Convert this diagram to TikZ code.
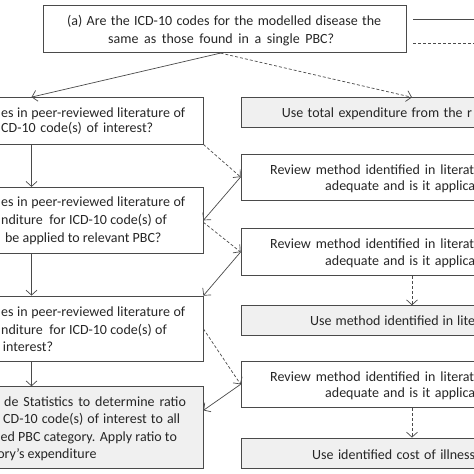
\documentclass[tikz,border=0pt]{standalone}
\usepackage{fontspec}
\setmainfont{Carlito}
\usetikzlibrary{arrows.meta}
\definecolor{edgec}{HTML}{4A4A4A}
\definecolor{grayfill}{HTML}{F0F0F0}
\definecolor{txtc}{HTML}{262626}
\newcommand{\spread}[2]{\makebox[#1][s]{#2}}
\begin{document}
\begin{tikzpicture}[x=1pt,y=-1pt,
  box/.style={draw=edgec, line width=0.8pt, rectangle, inner sep=0pt},
  greybox/.style={box, fill=grayfill},
  txt/.style={inner sep=0pt, text height=10.5pt, text depth=3.5pt, font=\fontsize{14}{17.5}\selectfont, text=txtc},
  ltxt/.style={txt, anchor=east},
  rtxt/.style={txt, anchor=west},
  conn/.style={draw=edgec, line width=0.7pt, -{Straight Barb[length=5pt,width=11pt]}},
  dconn/.style={conn, dash pattern=on 3pt off 2pt},
  legline/.style={draw=edgec, line width=0.7pt}]
\useasboundingbox (0,0) rectangle (474,474);
\clip (0,0) rectangle (474,474);
\fill[white] (0,0) rectangle (474,474);

\coordinate (lcol) at (31.5,0);
\coordinate (rcol) at (412,0);

% boxes
\node[box, minimum width=363pt, minimum height=47.7pt] (top) at (224.5,28.85) {};
\node[box, minimum width=403pt, minimum height=46.5pt] (B1) at (1.5,120.75) {};
\node[box, minimum width=403pt, minimum height=66pt] (B2) at (1.5,220.3) {};
\node[box, minimum width=403pt, minimum height=65.7pt] (B3) at (1.5,328.85) {};
\node[greybox, minimum width=403pt, minimum height=81.3pt] (B4) at (1.5,427.35) {};
\node[greybox, minimum width=459pt, minimum height=29.3pt] (R1) at (470.5,112.35) {};
\node[box, minimum width=459pt, minimum height=46pt] (R2) at (470.5,177) {};
\node[box, minimum width=459pt, minimum height=47.4pt] (R3) at (470.5,252) {};
\node[greybox, minimum width=459pt, minimum height=30pt] (R4) at (470.5,320.7) {};
\node[box, minimum width=459pt, minimum height=46.7pt] (R5) at (470.5,384.35) {};
\node[greybox, minimum width=459pt, minimum height=30pt] (R6) at (470.5,453) {};

% texts
\node[rtxt] (ttop1) at (67,21.7) {\spread{314pt}{(a) Are the ICD-10 codes for the modelled disease the}};
\node[rtxt] (ttop2) at (108,39.5) {\spread{226pt}{same as those found in a single PBC?}};

\node[rtxt] (b1a) at (1,114) {\spread{184pt}{es in peer-reviewed literature of}};
\node[rtxt] (b1b) at (1,129.3) {\spread{152pt}{CD-10 code(s) of interest?}};

\node[rtxt] (b2a) at (1,203) {\spread{184pt}{es in peer-reviewed literature of}};
\node[rtxt] (b2b) at (1,221) {\spread{165.7pt}{nditure\ \ for ICD-10 code(s) of}};
\node[ltxt] (b2c) at (161.7,239) {be applied to relevant PBC?};

\node[rtxt] (b3a) at (1,312.7) {\spread{184pt}{es in peer-reviewed literature of}};
\node[rtxt] (b3b) at (1,330.7) {\spread{165.7pt}{nditure\ \ for ICD-10 code(s) of}};
\node[ltxt] (b3c) at (53.3,348.3) {interest?};

\node[rtxt] (b4a) at (4,402.7) {\spread{181.7pt}{de Statistics to determine ratio}};
\node[rtxt] (b4b) at (3,420) {\spread{177pt}{CD-10 code(s) of interest to all}};
\node[rtxt] (b4c) at (0.5,437.5) {\spread{176.2pt}{ed PBC category. Apply ratio to}};
\node[ltxt] (b4d) at (96.7,455) {ory’s expenditure};

\node[rtxt] (r1a) at (281.7,114) {\spread{190pt}{Use total expenditure from the r}};
\node[rtxt] (r2a) at (270,171) {\spread{204pt}{Review method identified in literat}};
\node[rtxt] (r2b) at (325,186.7) {\spread{150pt}{adequate and is it applica}};
\node[rtxt] (r3a) at (270,245) {\spread{204pt}{Review method identified in literat}};
\node[rtxt] (r3b) at (325,262) {\spread{150pt}{adequate and is it applica}};
\node[rtxt] (r4a) at (310,321.7) {\spread{165pt}{Use method identified in lite}};
\node[rtxt] (r5a) at (270,378) {\spread{204pt}{Review method identified in literat}};
\node[rtxt] (r5b) at (325,394) {\spread{150pt}{adequate and is it applica}};
\node[rtxt] (r6a) at (312,456) {\spread{163pt}{Use identified cost of illness}};

% legend
\coordinate (ls1) at (413,19.3);
\coordinate (ls2) at (480,19.3);
\coordinate (ld1) at (413,43.3);
\coordinate (ld2) at (480,43.3);
\draw[legline] (ls1) -- (ls2);
\draw[legline, dash pattern=on 3pt off 2pt] (ld1) -- (ld2);

% connectors
\draw[conn] ([xshift=-4pt]top.south) -- (B1.north -| lcol);
\draw[dconn] ([xshift=-4pt]top.south) -- (R1.north -| rcol);
\draw[conn] (B1.south -| lcol) -- (B2.north -| lcol);
\draw[dconn] (B1.south east) -- (R2.west);
\draw[conn] (R2.west) -- (B2.east);
\draw[dconn] ([yshift=-2pt]B2.east) -- (R3.west);
\draw[conn] (R3.west) -- (B3.north east);
\draw[conn] (B2.south -| lcol) -- (B3.north -| lcol);
\draw[dconn] (R3.south -| rcol) -- (R4.north -| rcol);
\draw[dconn] (B3.east) -- (R5.west);
\draw[conn] (R5.west) -- ([yshift=17pt]B4.east);
\draw[conn] (B3.south -| lcol) -- (B4.north -| lcol);
\draw[dconn] (R5.south -| rcol) -- (R6.north -| rcol);
\end{tikzpicture}
\end{document}
